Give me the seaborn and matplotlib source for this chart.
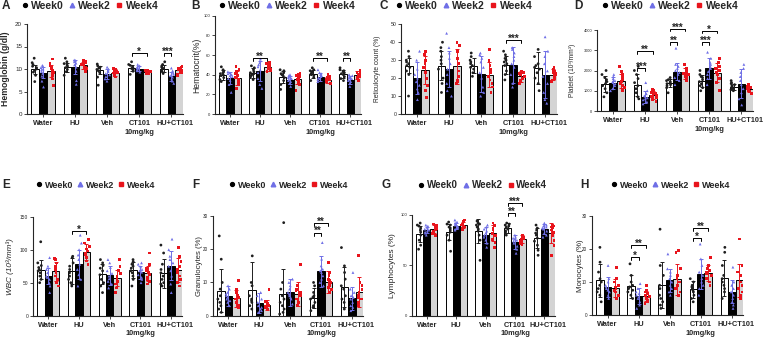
import numpy as np
import pandas as pd
import matplotlib.pyplot as plt
from matplotlib.lines import Line2D
from matplotlib.transforms import ScaledTranslation
import seaborn as sns

sns.set_style("ticks")
plt.rcParams['font.family'] = ['Liberation Sans', 'DejaVu Sans']
np.random.seed(3)  # jitter of the dots only

groups = ["Water", "HU", "Veh", "CT101\n10mg/kg", "HU+CT101"]
weeks = ["Week0", "Week2", "Week4"]

# ---- A: hemoglobin ----
hgb_mean = [[10.0, 9.2, 9.6], [10.4, 10.4, 10.8], [9.7, 8.9, 9.2], [10.2, 10.1, 9.3], [10.1, 8.4, 9.7]]
hgb_sd = [[1.0, 1.2, 1.3], [1.0, 1.5, 0.7], [0.9, 1.2, 0.7], [0.7, 0.6, 0.4], [0.8, 1.0, 0.6]]
hgb_pts = [
    [[7.2, 8.6, 9.3, 9.7, 10.0, 10.3, 10.6, 11.0, 11.4, 12.4], [6.0, 7.3, 8.4, 9.0, 9.4, 9.8, 10.0, 10.3, 10.6, 10.8], [6.4, 7.8, 8.6, 9.2, 9.6, 10.0, 10.4, 10.8, 11.3, 12.2]],
    [[8.6, 9.4, 9.9, 10.3, 10.6, 10.9, 11.2, 11.6, 12.4], [6.6, 7.4, 9.5, 10.4, 10.9, 11.3, 11.6, 11.9, 12.0], [9.5, 10.1, 10.4, 10.7, 11.0, 11.2, 11.4, 11.6, 11.9]],
    [[6.4, 8.2, 9.2, 9.6, 9.9, 10.2, 10.4, 10.7, 11.1], [7.3, 7.8, 8.3, 8.7, 9.0, 9.4, 9.7, 10.0, 10.4], [8.2, 8.6, 8.9, 9.1, 9.3, 9.5, 9.7, 9.9, 10.1]],
    [[8.8, 9.5, 9.8, 10.1, 10.3, 10.5, 10.8, 11.0, 11.6], [9.3, 9.6, 9.8, 10.0, 10.2, 10.3, 10.5, 10.7, 11.0], [8.9, 9.0, 9.1, 9.2, 9.3, 9.4, 9.5, 9.6, 9.7]],
    [[9.0, 9.4, 9.7, 10.0, 10.2, 10.4, 10.7, 11.0, 11.6], [6.8, 7.3, 7.8, 8.2, 8.5, 8.8, 9.1, 9.6, 10.2], [8.6, 8.9, 9.2, 9.5, 9.7, 9.9, 10.1, 10.3, 10.5]],
]
hgb_sig = [(3, 0, 2, 13.6, "*"), (4, 0, 1, 13.6, "***")]

# ---- B: hematocrit ----
hct_mean = [[40, 37, 37], [42, 44, 47.5], [38, 35, 36], [41, 38, 35], [41, 35, 40]]
hct_sd = [[5, 6, 7], [5, 10, 4], [6, 4, 5], [4, 4, 3], [4, 4, 4]]
hct_pts = [
    [[33, 35, 37, 39, 40, 41, 42, 43, 45, 48], [22, 30, 34, 36, 38, 39, 40, 41, 42, 43], [26, 30, 33, 35, 37, 39, 41, 43, 45, 48]],
    [[35, 37, 39, 40, 41, 42, 43, 45, 47, 49], [26, 30, 36, 42, 45, 48, 50, 52, 54, 56], [43, 44, 45, 46, 47, 48, 49, 50, 51, 52]],
    [[25, 30, 34, 37, 39, 40, 41, 42, 44, 45], [28, 31, 33, 34, 35, 36, 37, 38, 39, 40], [24, 30, 33, 35, 36, 37, 38, 39, 40, 41]],
    [[34, 37, 39, 40, 41, 42, 43, 44, 45, 47], [33, 35, 36, 37, 38, 39, 40, 41, 42, 45], [31, 33, 34, 34.5, 35, 35.5, 36, 37, 38, 40]],
    [[34, 36, 38, 40, 41, 42, 43, 44, 45, 47], [28, 31, 33, 34, 35, 36, 37, 38, 39, 40], [34, 36, 37, 38, 39, 40, 41, 42, 43, 44]],
]
hct_sig = [(1, 0, 2, 56.7, "**"), (3, 0, 2, 56.7, "**"), (4, 0, 1, 56.7, "**")]

# ---- C: reticulocytes ----
ret_mean = [[27, 20, 24.5], [27, 25, 26.5], [27, 22.5, 22], [27.5, 27.5, 21], [25.5, 22, 22]]
ret_sd = [[4, 9, 8], [8, 10, 10], [4, 10, 7], [5, 10, 3], [9, 13, 3]]
ret_pts = [
    [[10, 22, 24, 26, 27, 28, 29, 30, 32, 35], [8, 12, 14, 16, 18, 20, 22, 25, 30, 35], [9, 13, 16, 20, 23, 26, 28, 30, 33, 35]],
    [[12, 17, 20, 25, 28, 30, 32, 35, 37, 40], [10, 13, 17, 22, 25, 28, 31, 34, 37, 45], [17, 18, 19, 21, 24, 28, 31, 35, 38, 40]],
    [[21, 23, 25, 26, 27, 28, 29, 30, 32, 34], [10, 12, 15, 20, 23, 26, 29, 31, 33, 34], [12, 15, 17, 19, 21, 23, 25, 27, 30, 36]],
    [[19, 22, 24, 27, 28, 29, 30, 31, 33, 35], [15, 17, 22, 26, 28, 30, 32, 34, 36, 37], [17, 18, 19, 20, 21, 22, 22.5, 23, 23.5, 24]],
    [[13, 17, 20, 23, 25, 26, 27, 28, 32, 36], [6, 8, 12, 17, 21, 24, 28, 32, 35, 43], [18, 19, 20, 21, 22, 22.5, 23, 24, 25, 26]],
]
ret_sig = [(3, 0, 2, 41.3, "***")]

# ---- D: platelets ----
plt_mean = [[1350, 1400, 1500], [1300, 700, 780], [1400, 1950, 1850], [1500, 2100, 1900], [1200, 1350, 1100]]
plt_sd = [[400, 300, 350], [550, 300, 200], [200, 420, 250], [300, 500, 450], [150, 700, 150]]
plt_pts = [
    [[700, 900, 1100, 1250, 1350, 1450, 1550, 1650, 1800, 2000], [1000, 1100, 1250, 1350, 1400, 1450, 1500, 1600, 1700, 1800], [1000, 1150, 1250, 1350, 1450, 1550, 1650, 1800, 1950, 2200]],
    [[600, 700, 900, 1100, 1250, 1400, 1600, 1800, 2000, 2200], [350, 450, 550, 600, 650, 700, 750, 850, 1000, 1400], [450, 550, 650, 700, 750, 800, 850, 900, 1000, 1050]],
    [[900, 1150, 1250, 1300, 1350, 1400, 1450, 1500, 1550, 1650], [1300, 1500, 1650, 1800, 1900, 2000, 2100, 2200, 2300, 3100], [1500, 1600, 1700, 1750, 1800, 1850, 1900, 2000, 2100, 2300]],
    [[1000, 1150, 1250, 1350, 1450, 1550, 1650, 1700, 1800, 2000], [1300, 1600, 1800, 1950, 2100, 2200, 2300, 2400, 2600, 2900], [1000, 1400, 1600, 1800, 1900, 2000, 2100, 2200, 2400, 2600]],
    [[1000, 1050, 1100, 1150, 1200, 1250, 1300, 1350, 1400, 1500], [300, 600, 900, 1100, 1300, 1500, 1700, 1900, 2100, 2300], [850, 950, 1000, 1050, 1100, 1150, 1200, 1250, 1300]],
]
plt_sig = [(1, 0, 1, 2100, "***"), (1, 0, 2, 2950, "**"), (2, 0, 1, 3400, "**"),
           (2, 0, 2, 4050, "***"), (3, 0, 1, 3400, "***"), (3, 0, 2, 3950, "*")]

# ---- E: WBC ----
wbc_mean = [[70, 60, 67], [68, 78, 96], [63, 61, 57], [69, 66, 64], [64, 76, 69]]
wbc_sd = [[15, 12, 15], [20, 22, 12], [15, 15, 12], [12, 10, 12], [22, 22, 18]]
wbc_pts = [
    [[50, 55, 60, 65, 68, 70, 73, 76, 80, 112], [35, 45, 50, 55, 58, 60, 65, 70, 75, 88], [45, 50, 55, 60, 65, 70, 75, 80, 85, 87]],
    [[45, 50, 55, 60, 65, 70, 75, 80, 88, 90], [45, 55, 62, 70, 78, 85, 92, 100, 110, 122], [78, 83, 88, 92, 95, 98, 101, 105, 110, 115]],
    [[35, 45, 50, 55, 62, 68, 72, 76, 80, 85], [42, 48, 52, 56, 60, 64, 68, 73, 80, 85], [35, 42, 48, 52, 56, 60, 64, 68, 75, 85]],
    [[45, 55, 60, 65, 68, 72, 75, 78, 82, 85], [50, 55, 58, 62, 66, 68, 70, 74, 78, 80], [48, 52, 55, 58, 62, 65, 68, 72, 78, 95]],
    [[45, 48, 50, 55, 60, 65, 70, 78, 95, 107], [35, 48, 60, 68, 75, 80, 85, 90, 100, 116], [45, 50, 55, 60, 65, 70, 75, 82, 90, 103]],
]
wbc_sig = [(1, 0, 2, 128, "*")]

# ---- F: granulocytes ----
gran_mean = [[7.5, 5.8, 5.2], [7.8, 3.7, 3.2], [6.6, 7.0, 6.5], [5.3, 13.3, 10.2], [8.7, 5.2, 7.0]]
gran_sd = [[6.5, 3, 2.5], [8.5, 3, 1.5], [7.5, 4, 3.5], [3, 4.8, 3.3], [6, 3.5, 4.5]]
gran_pts = [
    [[1, 2, 3, 4, 5, 6, 8, 10, 17, 24], [3, 4, 4.5, 5, 5.5, 6, 6.5, 7, 8, 9], [2.5, 3, 4, 4.5, 5, 5.5, 6, 7, 8, 10.5]],
    [[2, 3, 4, 4.5, 5, 6, 9, 10, 18], [1, 1.5, 2, 2.5, 3, 4, 5, 6, 7], [2, 2.5, 2.8, 3, 3.2, 3.5, 3.8, 4.2, 8]],
    [[0.5, 1, 2, 3, 4, 5, 6, 8, 10, 28], [3.5, 5, 5.5, 6, 6.5, 7, 8, 9, 10, 11], [3, 4, 4.5, 5, 6, 7, 7.5, 8, 9, 15.5]],
    [[1.5, 2.5, 3, 4, 5, 5.5, 6, 7, 9, 10], [9, 10, 11, 12, 13, 13.5, 14, 15, 17, 22], [7, 8, 8.5, 9, 10, 10.5, 11, 12, 13, 16]],
    [[2, 4, 5, 6, 8, 9, 11, 13, 15, 20.5], [1.5, 2.5, 3, 4, 5, 5.5, 6, 7, 8, 13], [3, 4, 5, 5.5, 6, 7, 8, 9, 10, 18]],
]
gran_sig = [(3, 0, 1, 25, "**"), (3, 0, 2, 27.8, "**")]

# ---- G: lymphocytes ----
lym_mean = [[81, 85, 86], [83, 89, 90], [84, 80, 82], [87, 73, 76], [77, 86, 82]]
lym_sd = [[8, 3, 4], [8, 3, 3], [12, 8, 8], [5, 7, 4], [10, 5, 10]]
lym_pts = [
    [[66, 70, 75, 80, 83, 85, 87, 89, 90, 92], [80, 82, 83, 84, 85, 86, 87, 88, 89, 90], [80, 82, 84, 85, 86, 87, 88, 89, 90, 91]],
    [[64, 75, 80, 83, 85, 87, 88, 90, 91, 93], [85, 86, 87, 88, 89, 90, 91, 92, 93, 95], [85, 87, 88, 89, 90, 91, 92, 93, 94, 95]],
    [[55, 75, 80, 84, 86, 88, 90, 91, 92, 94], [68, 72, 75, 78, 80, 82, 84, 86, 88, 90], [68, 73, 76, 80, 82, 85, 87, 89, 90, 92]],
    [[80, 82, 84, 86, 87, 88, 89, 90, 91, 92], [62, 66, 69, 72, 74, 75, 76, 77, 78, 80], [71, 72, 73, 74, 75, 76, 77, 78, 79, 80]],
    [[60, 65, 70, 74, 77, 80, 82, 85, 87, 90], [78, 80, 82, 84, 86, 87, 88, 89, 90, 92], [60, 70, 75, 80, 83, 85, 87, 88, 89, 90]],
]
lym_sig = [(3, 0, 1, 102, "**"), (3, 0, 2, 112, "***")]

# ---- H: monocytes ----
mono_mean = [[10.5, 8.5, 8.2], [8.7, 5.8, 5.8], [9.0, 10.5, 10.8], [7.8, 12.5, 12.8], [11.2, 7.0, 10.6]]
mono_sd = [[5, 3, 2.8], [3.5, 2.5, 1.5], [7, 3.5, 4.8], [2.5, 4.5, 2.5], [5.5, 3.5, 5]]
mono_pts = [
    [[4, 6, 7, 8, 9, 10, 11, 13, 16, 20.5], [5, 6, 7, 7.5, 8, 8.5, 9, 10, 11, 15], [5, 6, 7, 7.5, 8, 8.5, 9, 10, 11, 14.5]],
    [[5, 6, 7, 7.5, 8, 8.5, 9, 10, 12, 15.5], [2, 3, 4, 5, 5.5, 6, 6.5, 7, 8, 9.5], [3.5, 4, 4.5, 5, 5.5, 6, 6.5, 7, 7.5, 9]],
    [[2, 3, 4, 5, 6, 8, 9, 12, 15, 26], [6, 7, 8, 9, 10, 11, 12, 13, 14, 18.5], [6, 7, 8, 9, 10, 11, 12, 14, 19, 19.5]],
    [[4, 5, 6, 7, 7.5, 8, 8.5, 9, 10, 11], [6, 8, 9, 10, 11, 12, 13, 15, 17, 21.5], [9, 10, 11, 12, 12.5, 13, 13.5, 14, 15, 17.5]],
    [[5, 7, 8, 9, 10, 11, 12, 15, 19, 20.5], [2, 3, 4, 5, 6, 7, 8, 9, 10, 14.5], [5, 6, 7, 8, 9, 10, 12, 13, 15, 23]],
]
mono_sig = [(1, 0, 1, 17.5, "*"), (1, 0, 2, 21.2, "**"), (3, 0, 1, 23.2, "*"), (3, 0, 2, 26.3, "**")]

bar_cols = {"Week0": "white", "Week2": "black", "Week4": "#d4d4d4"}
pt_cols = {"Week0": "#1e1e1e", "Week2": "#6f6fe6", "Week4": "#e8141c"}
markers = {"Week0": "o", "Week2": "^", "Week4": "s"}

W, H = 763, 343
fig = plt.figure(figsize=(W / 100, H / 100), dpi=100)


def draw(box, mean, sd, pts, sig, ymax, yticks, ylabel, lab_x, lab_fs, lab_style,
         tick_fs, letter, letter_xy, leg_xy, leg_fs):
    l, t, r, b = box
    ax = fig.add_axes([l / W, 1 - b / H, (r - l) / W, (b - t) / H])
    bars = pd.DataFrame([(g, w, mean[i][j]) for i, g in enumerate(groups)
                         for j, w in enumerate(weeks)], columns=["group", "week", "value"])
    sns.barplot(data=bars, x="group", y="value", hue="week", order=groups, hue_order=weeks,
                palette=bar_cols, edgecolor="black", linewidth=0.7, width=0.72,
                errorbar=None, legend=False, ax=ax)
    # bar centres from seaborn's own bars
    centres = {}
    for j, cont in enumerate(list(ax.containers)):
        for bar in cont:
            xc = bar.get_x() + bar.get_width() / 2
            centres[(int(round(xc)), j)] = xc
    for (i, j), xc in centres.items():
        ax.errorbar(xc, mean[i][j], yerr=sd[i][j], color=pt_cols[weeks[j]], lw=0.7,
                    capsize=1.6, capthick=0.7, zorder=3)
    dots = pd.DataFrame([(g, w, v) for i, g in enumerate(groups) for j, w in enumerate(weeks)
                         for v in pts[i][j]], columns=["group", "week", "value"])
    for w in weeks:
        sns.stripplot(data=dots[dots.week == w], x="group", y="value", hue="week",
                      order=groups, hue_order=weeks, palette=pt_cols, dodge=True,
                      jitter=0.24, marker=markers[w], size=2.0, linewidth=0,
                      legend=False, ax=ax, zorder=4)
    h = ymax * 0.03
    for g, a, c, y, txt in sig:
        x1, x2 = centres[(g, a)], centres[(g, c)]
        ax.plot([x1, x1, x2, x2], [y - h, y, y, y - h], color="black", lw=0.7,
                clip_on=False, zorder=5)
        ax.annotate(txt, ((x1 + x2) / 2, y), xytext=(0, -1.2), textcoords="offset points",
                    ha="center", va="baseline", fontsize=7, fontweight="bold",
                    annotation_clip=False)
    ax.set_xlim(-0.5, 4.36)
    ax.set_ylim(0, ymax)
    ax.set_yticks(yticks)
    ax.set_xlabel("")
    ax.set_ylabel(ylabel, fontsize=lab_fs, fontweight=lab_style[0], fontstyle=lab_style[1])
    ax.yaxis.set_label_coords((lab_x - l) / (r - l), 0.5)
    sns.despine(ax=ax)
    for s in ["left", "bottom"]:
        ax.spines[s].set_linewidth(0.8)
    ax.tick_params(axis="y", length=2.5, width=0.6, pad=1, labelsize=tick_fs)
    ax.tick_params(axis="x", length=2.5, width=0.6, pad=2)
    ax.set_xticks(range(5))
    ax.set_xticklabels(groups, fontsize=5.3, fontweight="bold", linespacing=1.3)
    # the last group name sits a little to the right, as in the original
    last = ax.get_xticklabels()[-1]
    last.set_transform(last.get_transform() + ScaledTranslation(4 / 100, 0, fig.dpi_scale_trans))
    fig.text(letter_xy[0] / W, 1 - letter_xy[1] / H, letter, fontsize=8.5,
             fontweight="bold", va="center")
    handles = [Line2D([], [], ls="none", marker=markers[w], color=pt_cols[w] if w != "Week0" else "black",
                      markersize=3.3 if w == "Week2" else 2.8) for w in weeks]
    fig.legend(handles, weeks, loc="center", bbox_to_anchor=(leg_xy[0] / W, 1 - leg_xy[1] / H),
               ncol=3, frameon=False, handlelength=0.6, handletextpad=0.3,
               columnspacing=0.5, borderpad=0, borderaxespad=0,
               prop={"size": leg_fs, "weight": "bold"})
    return ax


draw((27, 24, 183, 114), hgb_mean, hgb_sd, hgb_pts, hgb_sig, 20, [0, 5, 10, 15, 20],
     "Hemoglobin (g/dl)", 10, 6.2, ("bold", "normal"), 4.5, "A", (2, 6), (90, 6), 7.5)
draw((215, 15.7, 361, 114), hct_mean, hct_sd, hct_pts, hct_sig, 100, [0, 20, 40, 60, 80, 100],
     "Hematocrit(%)", 201.5, 6.2, ("normal", "normal"), 3.0, "B", (191, 6), (287, 6), 7.5)
draw((401, 24.3, 557, 114), ret_mean, ret_sd, ret_pts, ret_sig, 50, [0, 10, 20, 30, 40, 50],
     "Reticulocyte count (%)", 381, 4.8, ("normal", "normal"), 3.7, "C", (380, 6), (464, 6), 7.5)
draw((597, 30, 753, 111), plt_mean, plt_sd, plt_pts, plt_sig, 4000, [0, 1000, 2000, 3000, 4000],
     "Platelet (10³/mm³)", 576.5, 4.8, ("normal", "normal"), 2.8, "D", (574, 6), (670, 6), 7.5)
draw((33, 216.7, 182, 315.7), wbc_mean, wbc_sd, wbc_pts, wbc_sig, 150, [0, 50, 100, 150],
     "WBC (10³/mm³)", 14.5, 5.9, ("normal", "italic"), 3.5, "E", (2, 185), (96, 185), 6.5)
draw((213, 216, 363, 315.7), gran_mean, gran_sd, gran_pts, gran_sig, 30, [0, 10, 20, 30],
     "Granulocytes (%)", 203.5, 5.6, ("normal", "normal"), 3.3, "F", (192, 185), (289, 185), 6.5)
draw((412, 215, 555, 315.7), lym_mean, lym_sd, lym_pts, lym_sig, 100, [0, 50, 100],
     "Lymphocytes (%)", 396.5, 6.0, ("normal", "normal"), 3.0, "G", (382, 185), (483, 185), 7.0)
draw((592, 216, 743, 315), mono_mean, mono_sd, mono_pts, mono_sig, 30, [0, 10, 20, 30],
     "Monocytes (%)", 583.5, 5.7, ("normal", "normal"), 3.3, "H", (580, 185), (671, 185), 6.5)

fig.savefig("out.png", dpi=100, facecolor="white")
